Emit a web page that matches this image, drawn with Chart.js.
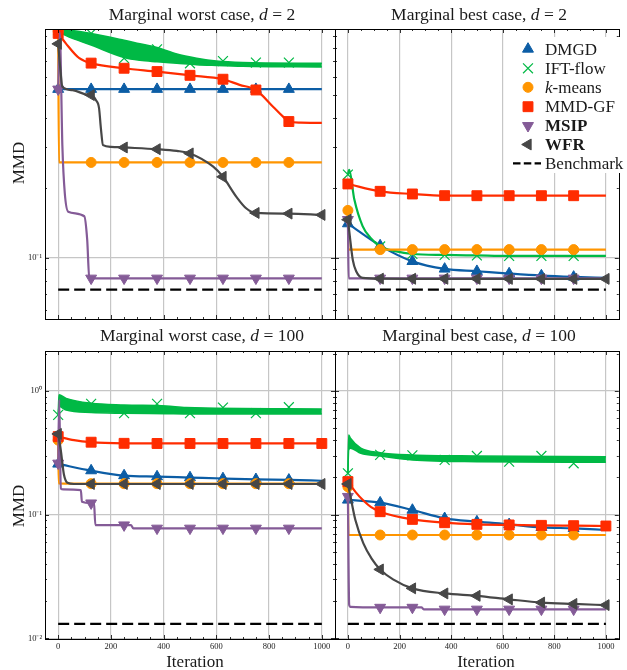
<!DOCTYPE html>
<html>
<head>
<meta charset="utf-8">
<script src="https://cdn.jsdelivr.net/npm/chart.js@4.4.1/dist/chart.umd.min.js"></script>
<style>
  html, body { margin: 0; padding: 0; background: #fff; }
  #wrap { position: relative; width: 627px; height: 670px; }
  #wrap canvas { position: absolute; left: 0; top: 0; }
</style>
</head>
<body>
<div id="wrap">
  <canvas id="tl" width="627" height="670"></canvas>
  <canvas id="tr" width="627" height="670"></canvas>
  <canvas id="bl" width="627" height="670"></canvas>
  <canvas id="br" width="627" height="670"></canvas>
</div>
<script>
// tick values
const xTicks = [0, 200, 400, 600, 800, 1000];
const yTicksTop = [0.1];
const yTicksBottom = [0.01, 0.1, 1];

// Marginal worst case, d = 2
const tlDMGD = [[0,0.53],[125,0.53],[250,0.53],[375,0.53],[500,0.53],[625,0.53],[750,0.53],[875,0.53],[1000,0.53]];
const tlIFTUpper = [[0,0.96],[30,0.955],[125,0.92],[250,0.86],[310,0.83],[375,0.80],[450,0.75],[525,0.72],[600,0.70],[700,0.69],[1000,0.685]];
const tlIFTLower = [[0,0.94],[30,0.90],[125,0.82],[250,0.725],[310,0.705],[375,0.695],[450,0.685],[525,0.675],[600,0.67],[700,0.665],[1000,0.66]];
const tlIFTMarks = [[0,0.95],[125,0.92],[250,0.72],[375,0.786],[500,0.685],[625,0.70],[750,0.69],[875,0.69]];
const tlKmeans = [[0,0.94],[3,0.257],[125,0.257],[250,0.257],[375,0.257],[500,0.257],[625,0.257],[750,0.257],[875,0.257],[1000,0.257]];
const tlMMDGF = [[0,0.92],[29,0.834],[80,0.72],[125,0.686],[250,0.652],[375,0.631],[500,0.608],[625,0.585],[688,0.553],[750,0.526],[815,0.446],[853,0.404],[875,0.385],[920,0.381],[1000,0.38]];
const tlMSIP = [[0,0.53],[6,0.93],[16,0.30],[25,0.19],[38,0.158],[99,0.151],[110,0.12],[118,0.082],[125,0.0818],[250,0.0818],[375,0.0818],[500,0.0818],[625,0.0818],[750,0.0818],[875,0.0818],[1000,0.0818]];
const tlWFR = [[0,0.83],[8,0.65],[16,0.543],[54,0.525],[118,0.50],[125,0.50],[143,0.476],[155,0.44],[162,0.36],[170,0.305],[200,0.30],[250,0.298],[375,0.293],[450,0.288],[500,0.281],[587,0.247],[625,0.223],[676,0.183],[714,0.163],[750,0.156],[875,0.155],[1000,0.153]];
const tlBench = [[0,0.0731],[1000,0.0731]];

// Marginal best case, d = 2
const trDMGD = [[0,0.1404],[125,0.113],[250,0.0967],[375,0.0897],[500,0.0877],[625,0.0857],[750,0.084],[875,0.0829],[1000,0.0821]];
const trIFT = [[0,0.228],[5,0.239],[25,0.178],[57,0.137],[88,0.122],[125,0.112],[183,0.107],[250,0.104],[375,0.103],[500,0.1025],[625,0.102],[750,0.102],[875,0.102],[1000,0.102]];
const trKmeans = [[0,0.16],[2,0.1086],[125,0.1086],[250,0.1086],[375,0.1086],[500,0.1086],[625,0.1086],[750,0.1086],[875,0.1086],[1000,0.1086]];
const trMMDGF = [[0,0.2078],[125,0.1932],[250,0.1882],[375,0.1851],[500,0.185],[625,0.185],[750,0.185],[875,0.185],[1000,0.185]];
const trMSIP = [[0,0.146],[3,0.0818],[125,0.0818],[250,0.0818],[375,0.0818],[500,0.0818],[625,0.0818],[750,0.0818],[875,0.0818],[1000,0.0818]];
const trWFR = [[0,0.146],[6,0.128],[19,0.098],[32,0.0877],[57,0.0822],[125,0.0815],[250,0.0814],[375,0.0814],[500,0.0814],[625,0.0813],[750,0.0813],[875,0.0813],[1000,0.0813]];
const trBench = [[0,0.0731],[1000,0.0731]];

// Marginal worst case, d = 100
const blDMGD = [[0,0.257],[125,0.227],[250,0.207],[375,0.203],[500,0.1995],[625,0.196],[750,0.193],[875,0.191],[1000,0.188]];
const blIFTUpper = [[0,0.64],[3,0.93],[30,0.87],[125,0.795],[250,0.77],[410,0.756],[485,0.733],[1000,0.715]];
const blIFTLower = [[0,0.64],[3,0.75],[30,0.70],[125,0.668],[250,0.66],[410,0.655],[485,0.652],[1000,0.652]];
const blIFTMarks = [[0,0.64],[125,0.785],[250,0.66],[375,0.785],[500,0.66],[625,0.733],[750,0.66],[875,0.738]];
const blKmeans = [[0,0.40],[2,0.179],[125,0.178],[250,0.178],[375,0.178],[500,0.178],[625,0.178],[750,0.178],[875,0.178],[1000,0.178]];
const blMMDGF = [[0,0.427],[60,0.40],[125,0.385],[250,0.377],[375,0.376],[500,0.376],[625,0.376],[750,0.376],[875,0.376],[1000,0.376]];
const blMSIP = [[0,0.26],[4,0.85],[10,0.163],[20,0.16],[86,0.158],[90,0.127],[125,0.124],[136,0.123],[141,0.0824],[250,0.0824],[276,0.0824],[285,0.0776],[375,0.0776],[500,0.0776],[625,0.0776],[750,0.0776],[875,0.0776],[1000,0.0776]];
const blWFR = [[0,0.449],[10,0.33],[22,0.21],[35,0.181],[60,0.177],[125,0.177],[250,0.177],[375,0.177],[500,0.177],[625,0.177],[750,0.177],[875,0.177],[1000,0.177]];
const blBench = [[0,0.0131],[1000,0.0131]];

// Marginal best case, d = 100
const brDMGD = [[0,0.1315],[125,0.125],[250,0.109],[375,0.0934],[500,0.0878],[625,0.0835],[750,0.079],[875,0.0775],[1000,0.0752]];
const brIFTUpper = [[0,0.216],[3,0.441],[10,0.414],[50,0.344],[125,0.317],[250,0.304],[500,0.298],[1000,0.294]];
const brIFTLower = [[0,0.216],[3,0.333],[10,0.344],[50,0.313],[125,0.298],[250,0.277],[500,0.268],[1000,0.265]];
const brIFTMarks = [[0,0.216],[125,0.304],[250,0.302],[375,0.277],[500,0.298],[625,0.268],[750,0.298],[875,0.26]];
const brKmeans = [[0,0.168],[2,0.0685],[125,0.0685],[250,0.0685],[375,0.0685],[500,0.0685],[625,0.0685],[750,0.0685],[875,0.0685],[1000,0.0685]];
const brMMDGF = [[0,0.185],[30,0.152],[60,0.13],[90,0.115],[125,0.1057],[250,0.0916],[375,0.0861],[500,0.0835],[625,0.0826],[750,0.082],[875,0.0815],[1000,0.081]];
const brMSIP = [[0,0.14],[5,0.0186],[10,0.018],[125,0.0178],[250,0.0178],[285,0.0178],[295,0.0172],[375,0.0172],[500,0.0172],[625,0.0172],[750,0.0172],[875,0.0172],[1000,0.0172]];
const brWFR = [[0,0.177],[10,0.14],[29,0.0906],[60,0.0587],[92,0.0442],[125,0.0361],[175,0.030],[250,0.0254],[375,0.0231],[500,0.0221],[625,0.0207],[750,0.0195],[875,0.019],[1000,0.0186]];
const brBench = [[0,0.0131],[1000,0.0131]];

const marks = [0, 125, 250, 375, 500, 625, 750, 875];
const marksEnd = marks.concat([1000]);

const FONT = '"Liberation Serif", "Times New Roman", serif';
const GRID = '#c6c6c6';
const W = 627, H = 670;

const style = {
  DMGD:   { color: '#0C5DA5', point: 'triangle', rot: 0,   r: 6.3 },
  IFT:    { color: '#00B945', point: 'crossRot', rot: 0,   r: 7 },
  kmeans: { color: '#FF9500', point: 'circle',   rot: 0,   r: 5 },
  MMDGF:  { color: '#FF2C00', point: 'rect',     rot: 0,   r: 7 },
  MSIP:   { color: '#845B97', point: 'triangle', rot: 180, r: 6.3 },
  WFR:    { color: '#474747', point: 'triangle', rot: -90, r: 6.3 }
};

function pts(arr) {
  return arr.map(p => ({ x: p[0], y: p[1] }));
}

function lineSet(key, data, mk, order, showLine) {
  const s = style[key];
  return {
    data: pts(data),
    order: order,
    showLine: showLine !== false,
    borderColor: s.color,
    backgroundColor: s.color,
    pointBackgroundColor: s.color,
    pointBorderColor: s.color,
    borderWidth: 2.2,
    pointStyle: s.point,
    pointRotation: s.rot,
    pointBorderWidth: key === 'IFT' ? 1.2 : 1,
    pointRadius: c => (c.raw && mk.includes(c.raw.x)) ? s.r : 0,
    cubicInterpolationMode: 'monotone',
    fill: false,
    clip: 0
  };
}

function bandSets(upper, lower, order) {
  const c = style.IFT.color;
  const base = { order: order, borderColor: c, backgroundColor: c, borderWidth: 1.5,
    pointRadius: 0, cubicInterpolationMode: 'monotone', clip: 0 };
  return [
    Object.assign({ data: pts(upper), fill: '+1' }, base),
    Object.assign({ data: pts(lower), fill: false }, base)
  ];
}

function benchSet(data) {
  return {
    data: pts(data), order: 1, borderColor: '#000', borderWidth: 2.2,
    borderDash: [11, 5], pointRadius: 0, fill: false, clip: 0
  };
}

function supLabel(v) {
  const e = Math.round(Math.log10(v));
  const sup = { '0': '\u2070', '1': '\u00b9', '2': '\u00b2', '-': '\u207b' };
  return '10' + String(e).split('').map(ch => sup[ch]).join('');
}

const panels = [
  { id: 'tl', box: [45, 29, 335, 319], yMin: 0.0547, yMax: 0.961, yTicks: yTicksTop, showX: false, showY: true,
    title: 'Marginal worst case, ', dim: ' = 2', titleX: 202, titleY: 19.5, ylabelY: 163,
    datasets: [
      lineSet('DMGD', tlDMGD, marks, 7),
      ...bandSets(tlIFTUpper, tlIFTLower, 6),
      lineSet('IFT', tlIFTMarks, marks, 6, false),
      lineSet('kmeans', tlKmeans, marks, 5),
      lineSet('MMDGF', tlMMDGF, marks, 4),
      lineSet('MSIP', tlMSIP, marks, 3),
      lineSet('WFR', tlWFR, marksEnd, 2),
      benchSet(tlBench)
    ] },
  { id: 'tr', box: [335, 29, 626, 319], yMin: 0.0547, yMax: 0.961, yTicks: yTicksTop, showX: false, showY: false,
    title: 'Marginal best case, ', dim: ' = 2', titleX: 479, titleY: 19.5, legend: true,
    datasets: [
      lineSet('DMGD', trDMGD, marks, 7),
      lineSet('IFT', trIFT, marks, 6),
      lineSet('kmeans', trKmeans, marks, 5),
      lineSet('MMDGF', trMMDGF, marks, 4),
      lineSet('MSIP', trMSIP, marks, 3),
      lineSet('WFR', trWFR, marksEnd, 2),
      benchSet(trBench)
    ] },
  { id: 'bl', box: [45, 351, 335, 639], yMin: 0.0099, yMax: 2.1, yTicks: yTicksBottom, showX: true, showY: true,
    title: 'Marginal worst case, ', dim: ' = 100', titleX: 202, titleY: 340.5, ylabelY: 506, xlabelX: 195,
    datasets: [
      lineSet('DMGD', blDMGD, marks, 7),
      ...bandSets(blIFTUpper, blIFTLower, 6),
      lineSet('IFT', blIFTMarks, marks, 6, false),
      lineSet('kmeans', blKmeans, marks, 5),
      lineSet('MMDGF', blMMDGF, marksEnd, 4),
      lineSet('MSIP', blMSIP, marks, 3),
      lineSet('WFR', blWFR, marksEnd, 2),
      benchSet(blBench)
    ] },
  { id: 'br', box: [335, 351, 626, 639], yMin: 0.0099, yMax: 2.1, yTicks: yTicksBottom, showX: true, showY: false,
    title: 'Marginal best case, ', dim: ' = 100', titleX: 479, titleY: 340.5, xlabelX: 486,
    datasets: [
      lineSet('DMGD', brDMGD, marks, 7),
      ...bandSets(brIFTUpper, brIFTLower, 6),
      lineSet('IFT', brIFTMarks, marks, 6, false),
      lineSet('kmeans', brKmeans, marks, 5),
      lineSet('MMDGF', brMMDGF, marksEnd, 4),
      lineSet('MSIP', brMSIP, marks, 3),
      lineSet('WFR', brWFR, marksEnd, 2),
      benchSet(brBench)
    ] }
];

const legendItems = [
  { key: 'DMGD', parts: [['', 'DMGD']] },
  { key: 'IFT', parts: [['', 'IFT-flow']] },
  { key: 'kmeans', parts: [['italic ', 'k'], ['', '-means']] },
  { key: 'MMDGF', parts: [['', 'MMD-GF']] },
  { key: 'MSIP', parts: [['bold ', 'MSIP']] },
  { key: 'WFR', parts: [['bold ', 'WFR']] },
  { key: 'bench', parts: [['', 'Benchmark']] }
];

function drawParts(ctx, parts, x, y, size) {
  parts.forEach(p => {
    ctx.font = p[0] + size + 'px ' + FONT;
    ctx.fillText(p[1], x, y);
    x += ctx.measureText(p[1]).width;
  });
}

function partsWidth(ctx, parts, size) {
  let w = 0;
  parts.forEach(p => {
    ctx.font = p[0] + size + 'px ' + FONT;
    w += ctx.measureText(p[1]).width;
  });
  return w;
}

function decor(panel) {
  return {
    id: 'decor',
    afterDatasetsDraw(chart) {
      const ctx = chart.ctx, a = chart.chartArea;
      const xs = chart.scales.x, ys = chart.scales.y;
      ctx.save();
      ctx.strokeStyle = '#000';
      ctx.lineWidth = 0.8;
      const seg = (x1, y1, x2, y2) => { ctx.beginPath(); ctx.moveTo(x1, y1); ctx.lineTo(x2, y2); ctx.stroke(); };
      for (let v = 0; v <= 1000; v += 50) {
        const px = Math.round(xs.getPixelForValue(v)) + 0.5;
        const len = v % 200 === 0 ? 4 : 2;
        seg(px, a.bottom, px, a.bottom - len);
        seg(px, a.top, px, a.top + len);
      }
      const e0 = Math.floor(Math.log10(panel.yMin)), e1 = Math.ceil(Math.log10(panel.yMax));
      for (let e = e0; e <= e1; e++) {
        for (let m = 1; m <= 9; m++) {
          const v = m * Math.pow(10, e);
          if (v < panel.yMin || v > panel.yMax) continue;
          const py = Math.round(ys.getPixelForValue(v)) + 0.5;
          const len = m === 1 ? 4 : 2;
          seg(a.left, py, a.left + len, py);
          seg(a.right, py, a.right - len, py);
        }
      }
      ctx.lineWidth = 1;
      ctx.strokeRect(Math.round(a.left) + 0.5, Math.round(a.top) + 0.5,
        Math.round(a.right - a.left), Math.round(a.bottom - a.top));
      ctx.restore();
    },
    afterDraw(chart) {
      const ctx = chart.ctx;
      ctx.save();
      ctx.fillStyle = '#1a1a1a';
      ctx.textBaseline = 'alphabetic';
      // title
      const tparts = [['', panel.title], ['italic ', 'd'], ['', panel.dim]];
      const tw = partsWidth(ctx, tparts, 17.5);
      drawParts(ctx, tparts, panel.titleX - tw / 2, panel.titleY, 17.5);
      // axis labels
      ctx.font = '17px ' + FONT;
      if (panel.ylabelY) {
        ctx.save();
        ctx.translate(24, panel.ylabelY);
        ctx.rotate(-Math.PI / 2);
        ctx.textAlign = 'center';
        ctx.fillText('MMD', 0, 0);
        ctx.restore();
      }
      if (panel.xlabelX) {
        ctx.textAlign = 'center';
        ctx.fillText('Iteration', panel.xlabelX, 667);
        ctx.textAlign = 'left';
      }
      if (panel.legend) {
        ctx.fillStyle = '#fff';
        ctx.fillRect(508, 37, 115, 136);
        const rowY = [49, 68.3, 87.3, 106.7, 125.7, 144.5, 163.3];
        legendItems.forEach((it, i) => {
          const y = rowY[i];
          if (it.key === 'bench') {
            ctx.strokeStyle = '#000';
            ctx.lineWidth = 2.2;
            ctx.setLineDash([7.5, 3.3]);
            ctx.beginPath(); ctx.moveTo(513, y); ctx.lineTo(541, y); ctx.stroke();
            ctx.setLineDash([]);
          } else {
            const s = style[it.key];
            ctx.fillStyle = s.color;
            ctx.strokeStyle = s.color;
            ctx.lineWidth = it.key === 'IFT' ? 1.2 : 1;
            Chart.helpers.drawPoint(ctx, { pointStyle: s.point, rotation: s.rot, radius: s.r, borderWidth: ctx.lineWidth }, 528, y);
          }
          ctx.fillStyle = '#1a1a1a';
          drawParts(ctx, it.parts, 545, y + 5.5, 17);
        });
      }
      ctx.restore();
    }
  };
}

panels.forEach(p => {
  const [L, T, R, B] = p.box;
  new Chart(document.getElementById(p.id), {
    type: 'line',
    data: { datasets: p.datasets },
    options: {
      responsive: false,
      animation: false,
      events: [],
      layout: { padding: { left: 0, top: T, right: W - R, bottom: 0 } },
      plugins: { legend: { display: false }, tooltip: { enabled: false } },
      scales: {
        x: {
          type: 'linear', min: -50, max: 1050,
          afterFit: s => { s.height = H - B; },
          afterBuildTicks: s => { s.ticks = xTicks.map(v => ({ value: v })); },
          grid: { color: GRID, lineWidth: 1.2, drawTicks: false },
          border: { display: false },
          ticks: { display: p.showX, padding: 3, color: '#222', maxRotation: 0, autoSkip: false,
            callback: v => String(v), font: { family: FONT, size: 8.5 } }
        },
        y: {
          type: 'logarithmic', min: p.yMin, max: p.yMax,
          afterFit: s => { s.width = L; },
          afterBuildTicks: s => { s.ticks = p.yTicks.map(v => ({ value: v })); },
          grid: { color: GRID, lineWidth: 1.2, drawTicks: false },
          border: { display: false },
          ticks: { display: p.showY, padding: 3, color: '#222', autoSkip: false,
            callback: v => supLabel(v), font: { family: FONT, size: 8.5 } }
        }
      }
    },
    plugins: [decor(p)]
  });
});
</script>
</body>
</html>
